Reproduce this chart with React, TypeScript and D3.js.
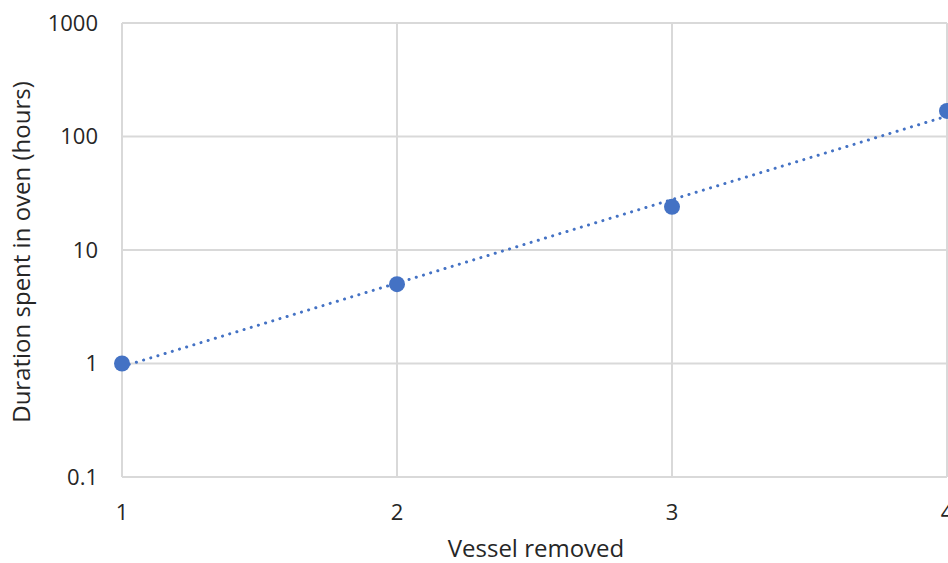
import React, { useEffect, useRef } from "react";
import * as d3 from "d3";

const vessels = [1, 2, 3, 4];
const hours = [1, 5, 24, 168];
const yTicks = [0.1, 1, 10, 100, 1000];
const xTicks = [1, 2, 3, 4];

const W = 948;
const H = 563;
const blue = "#4472C4";
const grid = "#d9d9d9";
const font = "'Open Sans', 'Noto Sans', sans-serif";

const App = () => {
  const svgRef = useRef<SVGSVGElement>(null);

  useEffect(() => {
    const svg = d3.select(svgRef.current);
    svg.selectAll("*").remove();

    const x = d3.scaleLinear().domain([1, 4]).range([122, 947]);
    const y = d3.scaleLog().domain([0.1, 1000]).range([477, 23]);

    // gridlines
    svg
      .append("g")
      .selectAll("line")
      .data(yTicks)
      .enter()
      .append("line")
      .attr("x1", x(1))
      .attr("x2", x(4))
      .attr("y1", (d) => y(d))
      .attr("y2", (d) => y(d))
      .attr("stroke", grid)
      .attr("stroke-width", 2);

    svg
      .append("g")
      .selectAll("line")
      .data(xTicks)
      .enter()
      .append("line")
      .attr("x1", (d) => x(d))
      .attr("x2", (d) => x(d))
      .attr("y1", y(0.1))
      .attr("y2", y(1000))
      .attr("stroke", grid)
      .attr("stroke-width", 2);

    // tick labels
    svg
      .append("g")
      .selectAll("text")
      .data(yTicks)
      .enter()
      .append("text")
      .attr("x", 98)
      .attr("y", (d) => y(d))
      .attr("dy", "0.35em")
      .attr("text-anchor", "end")
      .attr("font-family", font)
      .attr("font-size", 22)
      .attr("fill", "#262626")
      .text((d) => String(d));

    svg
      .append("g")
      .selectAll("text")
      .data(xTicks)
      .enter()
      .append("text")
      .attr("x", (d) => x(d))
      .attr("y", 512)
      .attr("dy", "0.35em")
      .attr("text-anchor", "middle")
      .attr("font-family", font)
      .attr("font-size", 22)
      .attr("fill", "#262626")
      .text((d) => String(d));

    // axis titles
    svg
      .append("text")
      .attr("x", 536)
      .attr("y", 549)
      .attr("dy", "0.35em")
      .attr("text-anchor", "middle")
      .attr("font-family", font)
      .attr("font-size", 24)
      .attr("fill", "#262626")
      .text("Vessel removed");

    svg
      .append("text")
      .attr("transform", `translate(22, 252) rotate(-90)`)
      .attr("dy", "0.35em")
      .attr("text-anchor", "middle")
      .attr("font-family", font)
      .attr("font-size", 24)
      .attr("fill", "#262626")
      .text("Duration spent in oven (hours)");

    // exponential trendline (least squares on log10)
    const logs = hours.map((h) => Math.log10(h));
    const mx = d3.mean(vessels) as number;
    const my = d3.mean(logs) as number;
    const slope =
      d3.sum(vessels, (v, i) => (v - mx) * (logs[i] - my)) /
      d3.sum(vessels, (v) => (v - mx) ** 2);
    const icpt = my - slope * mx;
    const trend = [1, 4].map((v) => [v, Math.pow(10, icpt + slope * v)]);

    svg
      .append("path")
      .attr(
        "d",
        d3
          .line<number[]>()
          .x((d) => x(d[0]))
          .y((d) => y(d[1]))(trend)
      )
      .attr("fill", "none")
      .attr("stroke", blue)
      .attr("stroke-width", 3)
      .attr("stroke-linecap", "round")
      .attr("stroke-dasharray", "0.1 7.4");

    // points
    svg
      .append("g")
      .selectAll("circle")
      .data(vessels)
      .enter()
      .append("circle")
      .attr("cx", (d) => x(d))
      .attr("cy", (_, i) => y(hours[i]))
      .attr("r", 8)
      .attr("fill", blue);
  }, []);

  return (
    <svg
      ref={svgRef}
      width={W}
      height={H}
      style={{ position: "absolute", left: 0, top: 0, background: "#fff" }}
    />
  );
};

export default App;
